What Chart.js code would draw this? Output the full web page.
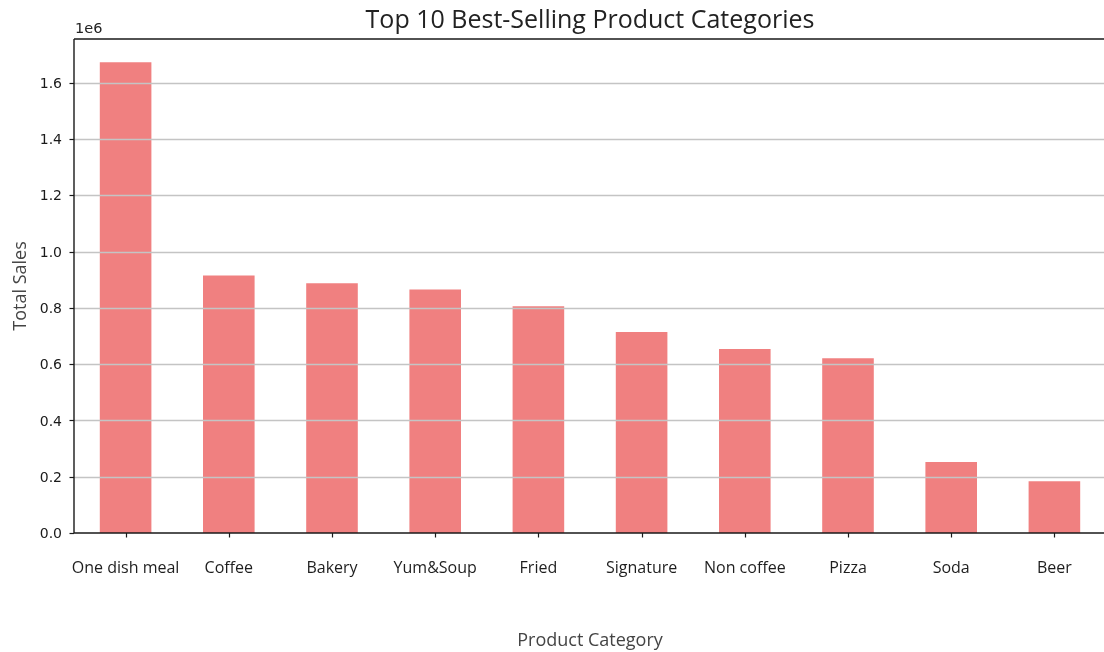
<!DOCTYPE html>
<html>
<head>
<meta charset="utf-8">
<title>Top 10 Best-Selling Product Categories</title>
<script src="https://cdn.jsdelivr.net/npm/chart.js@4.4.1/dist/chart.umd.min.js"></script>
<style>
  html, body { margin: 0; padding: 0; background: #fff; overflow: hidden; }
  #wrap { position: relative; width: 1110px; height: 652px; }
</style>
</head>
<body>
<div id="wrap"><canvas id="chart"></canvas></div>
<script>
// Sales per product category (units of 1e6 on the axis)
const categories = ["One dish meal", "Coffee", "Bakery", "Yum&Soup", "Fried", "Signature", "Non coffee", "Pizza", "Soda", "Beer"];
const totalSales = [1672000, 915000, 887000, 865000, 806000, 714000, 654000, 621000, 252000, 184000];
const yTickValues = [0, 200000, 400000, 600000, 800000, 1000000, 1200000, 1400000, 1600000];
const yMax = 1755000;

const chartTitle = "Top 10 Best-Selling Product Categories";
const xAxisTitle = "Product Category";
const yAxisTitle = "Total Sales";
const offsetText = "1e6";

// Frame, grid (drawn over the bars), tick marks and text
const framePlugin = {
  id: 'frame',
  afterDatasetsDraw(chart) {
    const { ctx, chartArea: a, scales } = chart;
    const y = scales.y, x = scales.x;
    ctx.save();
    // horizontal grid lines
    ctx.strokeStyle = '#c4c4c4';
    ctx.lineWidth = 1.5;
    yTickValues.forEach(v => {
      if (v === 0) return;
      const py = Math.round(y.getPixelForValue(v)) + 0.5;
      ctx.beginPath(); ctx.moveTo(a.left, py); ctx.lineTo(a.right, py); ctx.stroke();
    });
    // spines
    ctx.strokeStyle = '#1a1a1a';
    ctx.lineWidth = 1.4;
    ctx.beginPath();
    ctx.moveTo(a.left, a.top); ctx.lineTo(a.right, a.top);
    ctx.moveTo(a.left, a.top); ctx.lineTo(a.left, a.bottom);
    ctx.moveTo(a.left, a.bottom); ctx.lineTo(a.right, a.bottom);
    ctx.moveTo(a.right, a.top); ctx.lineTo(a.right, a.bottom);
    ctx.stroke();
    // tick marks
    ctx.lineWidth = 1.2;
    yTickValues.forEach(v => {
      const py = Math.round(y.getPixelForValue(v)) + 0.5;
      ctx.beginPath(); ctx.moveTo(a.left - 4.5, py); ctx.lineTo(a.left, py); ctx.stroke();
    });
    categories.forEach((c, i) => {
      const px = Math.round(x.getPixelForValue(i)) + 0.5;
      ctx.beginPath(); ctx.moveTo(px, a.bottom); ctx.lineTo(px, a.bottom + 4.5); ctx.stroke();
    });
    // texts
    ctx.textAlign = 'center';
    ctx.textBaseline = 'middle';
    ctx.fillStyle = '#222';
    ctx.font = '25px "Open Sans"';
    ctx.fillText(chartTitle, (a.left + a.right) / 2, 21);
    ctx.fillStyle = '#444';
    ctx.font = '18px "Open Sans"';
    ctx.fillText(xAxisTitle, (a.left + a.right) / 2, 641);
    ctx.save();
    ctx.translate(21, 286);
    ctx.rotate(-Math.PI / 2);
    ctx.fillText(yAxisTitle, 0, 0);
    ctx.restore();
    ctx.fillStyle = '#222';
    ctx.textAlign = 'left';
    ctx.font = '14.5px "DejaVu Sans"';
    ctx.fillText(offsetText, a.left + 1, 29);
    ctx.restore();
  }
};

new Chart(document.getElementById('chart'), {
  type: 'bar',
  data: {
    labels: categories,
    datasets: [{
      data: totalSales,
      backgroundColor: '#f08080',
      borderWidth: 0,
      barPercentage: 0.5,
      categoryPercentage: 1.0
    }]
  },
  options: {
    responsive: true,
    maintainAspectRatio: false,
    animation: false,
    layout: { padding: { left: 0, right: 4, top: 39, bottom: 0 } },
    plugins: {
      legend: { display: false },
      title: { display: false },
      tooltip: { enabled: false }
    },
    scales: {
      x: {
        offset: true,
        grid: { display: false, drawTicks: false },
        border: { display: false },
        ticks: {
          color: '#1e1e1e',
          font: { family: '"Open Sans"', size: 16 },
          padding: 26,
          maxRotation: 0,
          autoSkip: false
        },
        afterFit(scale) { scale.height = 119; }
      },
      y: {
        min: 0,
        max: yMax,
        grid: { display: false, drawTicks: false },
        border: { display: false },
        ticks: {
          color: '#1a1a1a',
          font: { family: '"DejaVu Sans"', size: 14 },
          padding: 12,
          labelOffset: 1.5,
          callback: v => (v / 1e6).toFixed(1)
        },
        afterBuildTicks(scale) { scale.ticks = yTickValues.map(v => ({ value: v })); },
        afterFit(scale) { scale.width = 74; }
      }
    }
  },
  plugins: [framePlugin]
});
</script>
</body>
</html>
